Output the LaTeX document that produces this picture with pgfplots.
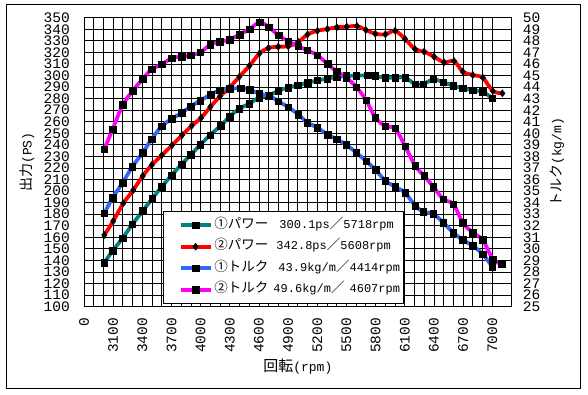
\documentclass[border=0pt]{standalone}
\usepackage{fontspec}
\setmainfont{Liberation Mono}
\newfontfamily\jp{Noto Sans CJK JP}
\usepackage{pgfplots}
\usepackage{pgfplotstable}
\pgfplotsset{compat=1.18}
\definecolor{pteal}{RGB}{0,128,128}
\definecolor{pred}{RGB}{255,0,0}
\definecolor{pblue}{RGB}{51,102,255}
\definecolor{pmag}{RGB}{255,0,255}
\newcommand{\J}[1]{{\jp\fontsize{13.5}{14}\selectfont #1}}

\pgfplotstableread{
rpm ps
3009 138.1
3095 148.4
3198 159.4
3297 171.3
3404 182.8
3500 193.4
3600 203.8
3702 213.9
3805 223.2
3900 231.5
3994 239.9
4097 248.5
4207 256.6
4297 264.4
4397 271.3
4500 275.6
4601 281.0
4695 282.7
4798 286.6
4901 289.6
4999 291.5
5100 293.7
5201 295.8
5302 297.3
5401 298.8
5499 299.6
5599 299.9
5718 300.1
5794 299.6
5897 298.1
6000 298.1
6103 298.1
6206 292.6
6291 292.6
6394 296.7
6497 294.1
6600 291.2
6697 288.9
6796 287.2
6899 286.0
7001 280.3
}\powerA

\pgfplotstableread{
rpm ps
3009 162.0
3101 174.1
3204 189.4
3307 200.9
3404 213.1
3497 222.6
3600 231.0
3705 239.6
3810 248.5
3908 256.5
4006 263.5
4100 272.8
4199 282.0
4297 289.6
4399 299.0
4503 308.5
4606 319.2
4698 323.8
4798 324.9
4901 325.3
5004 329.0
5100 335.5
5201 338.7
5304 340.2
5401 341.7
5503 342.2
5608 342.8
5699 339.4
5797 336.1
5900 335.6
6000 338.7
6103 331.6
6206 322.7
6299 320.6
6401 316.3
6504 311.4
6607 312.5
6697 303.3
6800 300.4
6903 298.1
7006 286.6
7104 284.6
}\powerB

\pgfplotstableread{
rpm tq
3009 33.08
3095 34.43
3198 35.73
3297 37.11
3404 38.32
3495 39.48
3600 40.63
3702 41.24
3805 41.78
3900 42.33
3997 42.84
4102 43.34
4199 43.74
4297 43.85
4414 43.90
4503 43.78
4604 43.42
4707 43.24
4798 42.77
4901 42.26
5004 41.63
5098 40.93
5201 40.49
5304 39.90
5401 39.49
5499 38.99
5601 38.33
5702 37.59
5798 36.85
5900 35.89
6000 35.38
6103 34.86
6206 33.74
6291 33.22
6394 33.02
6497 32.27
6600 31.40
6697 30.77
6800 30.28
6903 29.53
7001 28.46
}\torqueA

\pgfplotstableread{
rpm tq
3009 38.62
3095 40.37
3198 42.45
3301 43.68
3404 44.70
3497 45.54
3600 45.97
3702 46.49
3805 46.63
3899 46.75
3997 47.01
4100 47.67
4199 47.92
4297 48.11
4399 48.54
4503 49.02
4607 49.60
4702 49.19
4801 48.47
4901 47.96
5004 47.53
5098 47.18
5201 46.75
5304 46.01
5398 45.36
5498 44.83
5601 44.00
5702 42.88
5796 41.37
5900 40.61
6000 40.43
6103 38.90
6206 37.21
6299 36.31
6394 35.38
6497 34.29
6600 33.88
6697 32.27
6800 31.40
6903 30.77
7006 29.10
7098 28.69
}\torqueB

\pgfplotsset{
  serA/.style={pteal, line width=3.8pt, smooth, mark=square*, mark size=3.3pt, mark options={solid, draw=black, fill=black, line width=0.4pt}},
  serB/.style={pred, line width=3.8pt, smooth, mark=diamond*, mark size=3.6pt, mark options={solid, draw=black, fill=black, line width=0.4pt}},
  serC/.style={pblue, line width=3.8pt, smooth, mark=square*, mark size=3.3pt, mark options={solid, draw=black, fill=black, line width=0.4pt}},
  serD/.style={pmag, line width=3.8pt, smooth, mark=square*, mark size=3.3pt, mark options={solid, draw=black, fill=black, line width=0.4pt}},
  common/.style={
    at={(0pt,0pt)}, anchor=south west, scale only axis,
    width=427.7pt, height=289pt,
    xmin=2800, xmax=7200,
    major tick length=0pt, minor tick length=0pt,
    axis line style={black, line width=0.8pt},
    /pgf/number format/assume math mode=true,
    tick label style={font=\fontsize{14.5}{14.5}\selectfont},
  },
}

\begin{document}
\begin{tikzpicture}
\useasboundingbox (-84pt,-88.3pt) rectangle (504pt,306.7pt);
\draw[line width=1pt] (-77pt,-82.3pt) rectangle (496pt,301.7pt);

\begin{axis}[common,
  ymin=100, ymax=350,
  xtick={2800,3100,...,7000},
  xticklabels={0,3100,3400,3700,4000,4300,4600,4900,5200,5500,5800,6100,6400,6700,7000},
  scaled x ticks=false,
  minor x tick num=2,
  ytick={100,110,...,350},
  grid=both,
  major grid style={black, line width=0.8pt},
  minor grid style={black, line width=0.8pt},
  xticklabel style={rotate=90, anchor=east, inner sep=0pt},
  xticklabel shift=11pt,
  yticklabel style={anchor=east, inner sep=0pt},
  yticklabel shift=14pt,
  every axis y label/.style={at={(axis description cs:-0.1333,0.5)}, rotate=90, anchor=center},
  every axis x label/.style={at={(axis description cs:0.5,-0.2076)}, anchor=center},
  ylabel={{\jp\fontsize{14}{14}\selectfont 出力}{\fontsize{13}{13}\selectfont (PS)}},
  xlabel={{\jp\fontsize{15}{15}\selectfont 回転}{\fontsize{13}{13}\selectfont (rpm)}},
]
\addplot[serA] table[x=rpm, y=ps] {\powerA};
\addplot[serB] table[x=rpm, y=ps] {\powerB};
\end{axis}

\begin{axis}[common,
  ymin=25, ymax=50,
  axis y line*=right, axis x line=none,
  ytick={25,26,...,50},
  yticklabel style={anchor=west, inner sep=0pt},
  yticklabel shift=11pt,
  every axis y label/.style={at={(axis description cs:1.106,0.5)}, rotate=90, anchor=center},
  ylabel={{\jp\fontsize{14}{14}\selectfont トルク}{\fontsize{13}{13}\selectfont (kg/m)}},
  legend image code/.code={\path (0pt,0pt); \draw[mark repeat=2,mark phase=2,#1] plot coordinates {(12pt,0pt) (27pt,0pt) (42pt,0pt)};},
  legend style={at={(rel axis cs:0.1854,0.3322)}, anchor=north west, draw=black, line width=0.8pt, fill=white,
    inner xsep=3pt, inner ysep=7pt, row sep=7.6pt, column sep=2pt,
    nodes={inner sep=0pt, text height=10pt, text depth=4pt},
    font=\fontsize{12}{14}\selectfont, cells={anchor=west}},
]
\addlegendimage{serA}
\addlegendentry{\J{①パワー}\hspace{11pt}300.1ps\J{／}5718rpm}
\addlegendimage{serB}
\addlegendentry{\J{②パワー}\hspace{8pt}342.8ps\J{／}5608rpm}
\addplot[serC] table[x=rpm, y=tq] {\torqueA};
\addlegendentry{\J{①トルク}\hspace{10pt}43.9kg/m\J{／}4414rpm}
\addplot[serD] table[x=rpm, y=tq] {\torqueB};
\addlegendentry{\J{②トルク}\hspace{5pt}49.6kg/m\J{／}\hspace{5pt}4607rpm}
\end{axis}
\end{tikzpicture}
\end{document}
